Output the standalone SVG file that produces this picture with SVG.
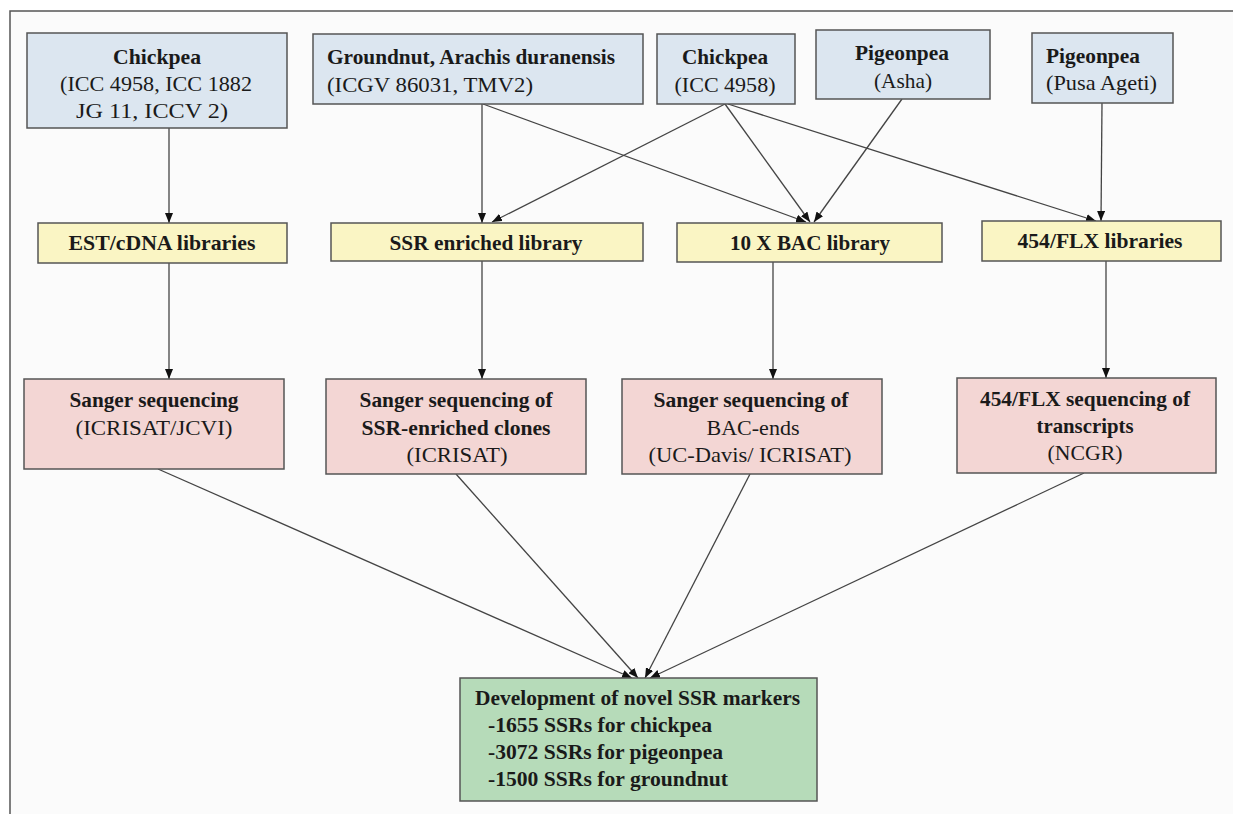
<svg xmlns="http://www.w3.org/2000/svg" width="1233" height="814" viewBox="0 0 1233 814">
<defs>
<marker id="ah" markerUnits="userSpaceOnUse" markerWidth="10" markerHeight="8" refX="10" refY="4" orient="auto">
<path d="M0,0 L10,4 L0,8 z" fill="#111"/>
</marker>
<style>
.blue{fill:#dce6f0;stroke:#555;stroke-width:1.5}
.yel{fill:#faf5c4;stroke:#555;stroke-width:1.5}
.pink{fill:#f3d6d4;stroke:#555;stroke-width:1.5}
.green{fill:#b6dbb9;stroke:#555;stroke-width:1.5}
text{font-family:"Liberation Serif","Times New Roman",serif;font-size:22px;fill:#1a1a1a}
.b{font-weight:bold}
.c{text-anchor:middle}
.e{stroke:#444;stroke-width:1.3;fill:none;marker-end:url(#ah)}
.l{stroke:#555;stroke-width:1.5;fill:none}
</style>
</defs>
<rect x="0" y="0" width="1233" height="814" fill="#ffffff"/>
<rect x="10" y="11" width="1223" height="803" fill="#fbfbfb"/>
<path d="M10,814 L10,11 L1233,11" class="l"/>

<g id="connectors">
<line class="e" x1="169" y1="128" x2="169" y2="223"/>
<line class="e" x1="482" y1="104" x2="482" y2="223"/>
<line class="e" x1="483" y1="104" x2="806" y2="222"/>
<line class="e" x1="725" y1="104" x2="492" y2="222"/>
<line class="e" x1="725" y1="104" x2="810" y2="222"/>
<line class="e" x1="728" y1="104" x2="1096" y2="221"/>
<line class="e" x1="902" y1="99" x2="814" y2="222"/>
<line class="e" x1="1102" y1="103" x2="1101" y2="221"/>
<line class="e" x1="169" y1="263" x2="169" y2="379"/>
<line class="e" x1="482" y1="261" x2="482" y2="379"/>
<line class="e" x1="773" y1="262" x2="773" y2="379"/>
<line class="e" x1="1106" y1="261" x2="1106" y2="378"/>
<line class="e" x1="158" y1="469" x2="632" y2="678"/>
<line class="e" x1="456" y1="474" x2="638" y2="678"/>
<line class="e" x1="750" y1="474" x2="645" y2="678"/>
<line class="e" x1="1084" y1="473" x2="650" y2="678"/>
</g>

<g id="chickpea1">
<rect class="blue" x="27" y="33" width="260" height="95"/>
<text class="b c" x="157" y="64" textLength="88" lengthAdjust="spacingAndGlyphs">Chickpea</text>
<text class="c" x="156" y="91" textLength="192" lengthAdjust="spacingAndGlyphs">(ICC 4958, ICC 1882</text>
<text class="c" x="152" y="118" textLength="152" lengthAdjust="spacingAndGlyphs">JG 11, ICCV 2)</text>
</g>
<g id="groundnut">
<rect class="blue" x="313" y="34" width="330" height="70"/>
<text class="b" x="327" y="64" textLength="288" lengthAdjust="spacingAndGlyphs">Groundnut, Arachis duranensis</text>
<text x="327" y="92" textLength="206" lengthAdjust="spacingAndGlyphs">(ICGV 86031, TMV2)</text>
</g>
<g id="chickpea2">
<rect class="blue" x="657" y="34" width="138" height="70"/>
<text class="b c" x="725" y="64" textLength="86" lengthAdjust="spacingAndGlyphs">Chickpea</text>
<text class="c" x="725" y="92" textLength="101" lengthAdjust="spacingAndGlyphs">(ICC 4958)</text>
</g>
<g id="pigeonpea-asha">
<rect class="blue" x="816" y="30" width="174" height="69"/>
<text class="b c" x="902" y="60" textLength="94" lengthAdjust="spacingAndGlyphs">Pigeonpea</text>
<text class="c" x="903" y="88" textLength="58" lengthAdjust="spacingAndGlyphs">(Asha)</text>
</g>
<g id="pigeonpea-pusa">
<rect class="blue" x="1032" y="33" width="141" height="70"/>
<text class="b" x="1046" y="63" textLength="94" lengthAdjust="spacingAndGlyphs">Pigeonpea</text>
<text x="1046" y="90" textLength="111" lengthAdjust="spacingAndGlyphs">(Pusa Ageti)</text>
</g>

<g id="est">
<rect class="yel" x="38" y="223" width="249" height="40"/>
<text class="b c" x="162" y="250" textLength="187" lengthAdjust="spacingAndGlyphs">EST/cDNA libraries</text>
</g>
<g id="ssr-lib">
<rect class="yel" x="331" y="223" width="312" height="38"/>
<text class="b c" x="486" y="250" textLength="193" lengthAdjust="spacingAndGlyphs">SSR enriched library</text>
</g>
<g id="bac-lib">
<rect class="yel" x="677" y="223" width="265" height="39"/>
<text class="b c" x="810" y="250" textLength="160" lengthAdjust="spacingAndGlyphs">10 X BAC library</text>
</g>
<g id="flx-lib">
<rect class="yel" x="982" y="221" width="239" height="40"/>
<text class="b c" x="1100" y="248" textLength="165" lengthAdjust="spacingAndGlyphs">454/FLX libraries</text>
</g>

<g id="sanger">
<rect class="pink" x="24" y="379" width="260" height="90"/>
<text class="b c" x="154" y="407" textLength="169" lengthAdjust="spacingAndGlyphs">Sanger sequencing</text>
<text class="c" x="154" y="435" textLength="157" lengthAdjust="spacingAndGlyphs">(ICRISAT/JCVI)</text>
</g>
<g id="sanger-ssr">
<rect class="pink" x="326" y="379" width="260" height="95"/>
<text class="b c" x="456" y="407" textLength="193" lengthAdjust="spacingAndGlyphs">Sanger sequencing of</text>
<text class="b c" x="456" y="435" textLength="189" lengthAdjust="spacingAndGlyphs">SSR-enriched clones</text>
<text class="c" x="457" y="462" textLength="101" lengthAdjust="spacingAndGlyphs">(ICRISAT)</text>
</g>
<g id="sanger-bac">
<rect class="pink" x="622" y="379" width="260" height="95"/>
<text class="b c" x="751" y="407" textLength="195" lengthAdjust="spacingAndGlyphs">Sanger sequencing of</text>
<text class="c" x="753" y="435" textLength="93" lengthAdjust="spacingAndGlyphs">BAC-ends</text>
<text class="c" x="750" y="462" textLength="203" lengthAdjust="spacingAndGlyphs">(UC-Davis/ ICRISAT)</text>
</g>
<g id="flx-seq">
<rect class="pink" x="957" y="378" width="259" height="95"/>
<text class="b c" x="1085" y="406" textLength="210" lengthAdjust="spacingAndGlyphs">454/FLX sequencing of</text>
<text class="b c" x="1085" y="433" textLength="97" lengthAdjust="spacingAndGlyphs">transcripts</text>
<text class="c" x="1085" y="460" textLength="75" lengthAdjust="spacingAndGlyphs">(NCGR)</text>
</g>

<g id="markers">
<rect class="green" x="460" y="678" width="357" height="123"/>
<text class="b" x="475" y="705" textLength="325" lengthAdjust="spacingAndGlyphs">Development of novel SSR markers</text>
<text class="b" x="488" y="732" textLength="224" lengthAdjust="spacingAndGlyphs">-1655 SSRs for chickpea</text>
<text class="b" x="488" y="759" textLength="235" lengthAdjust="spacingAndGlyphs">-3072 SSRs for pigeonpea</text>
<text class="b" x="488" y="786" textLength="240" lengthAdjust="spacingAndGlyphs">-1500 SSRs for groundnut</text>
</g>
</svg>
